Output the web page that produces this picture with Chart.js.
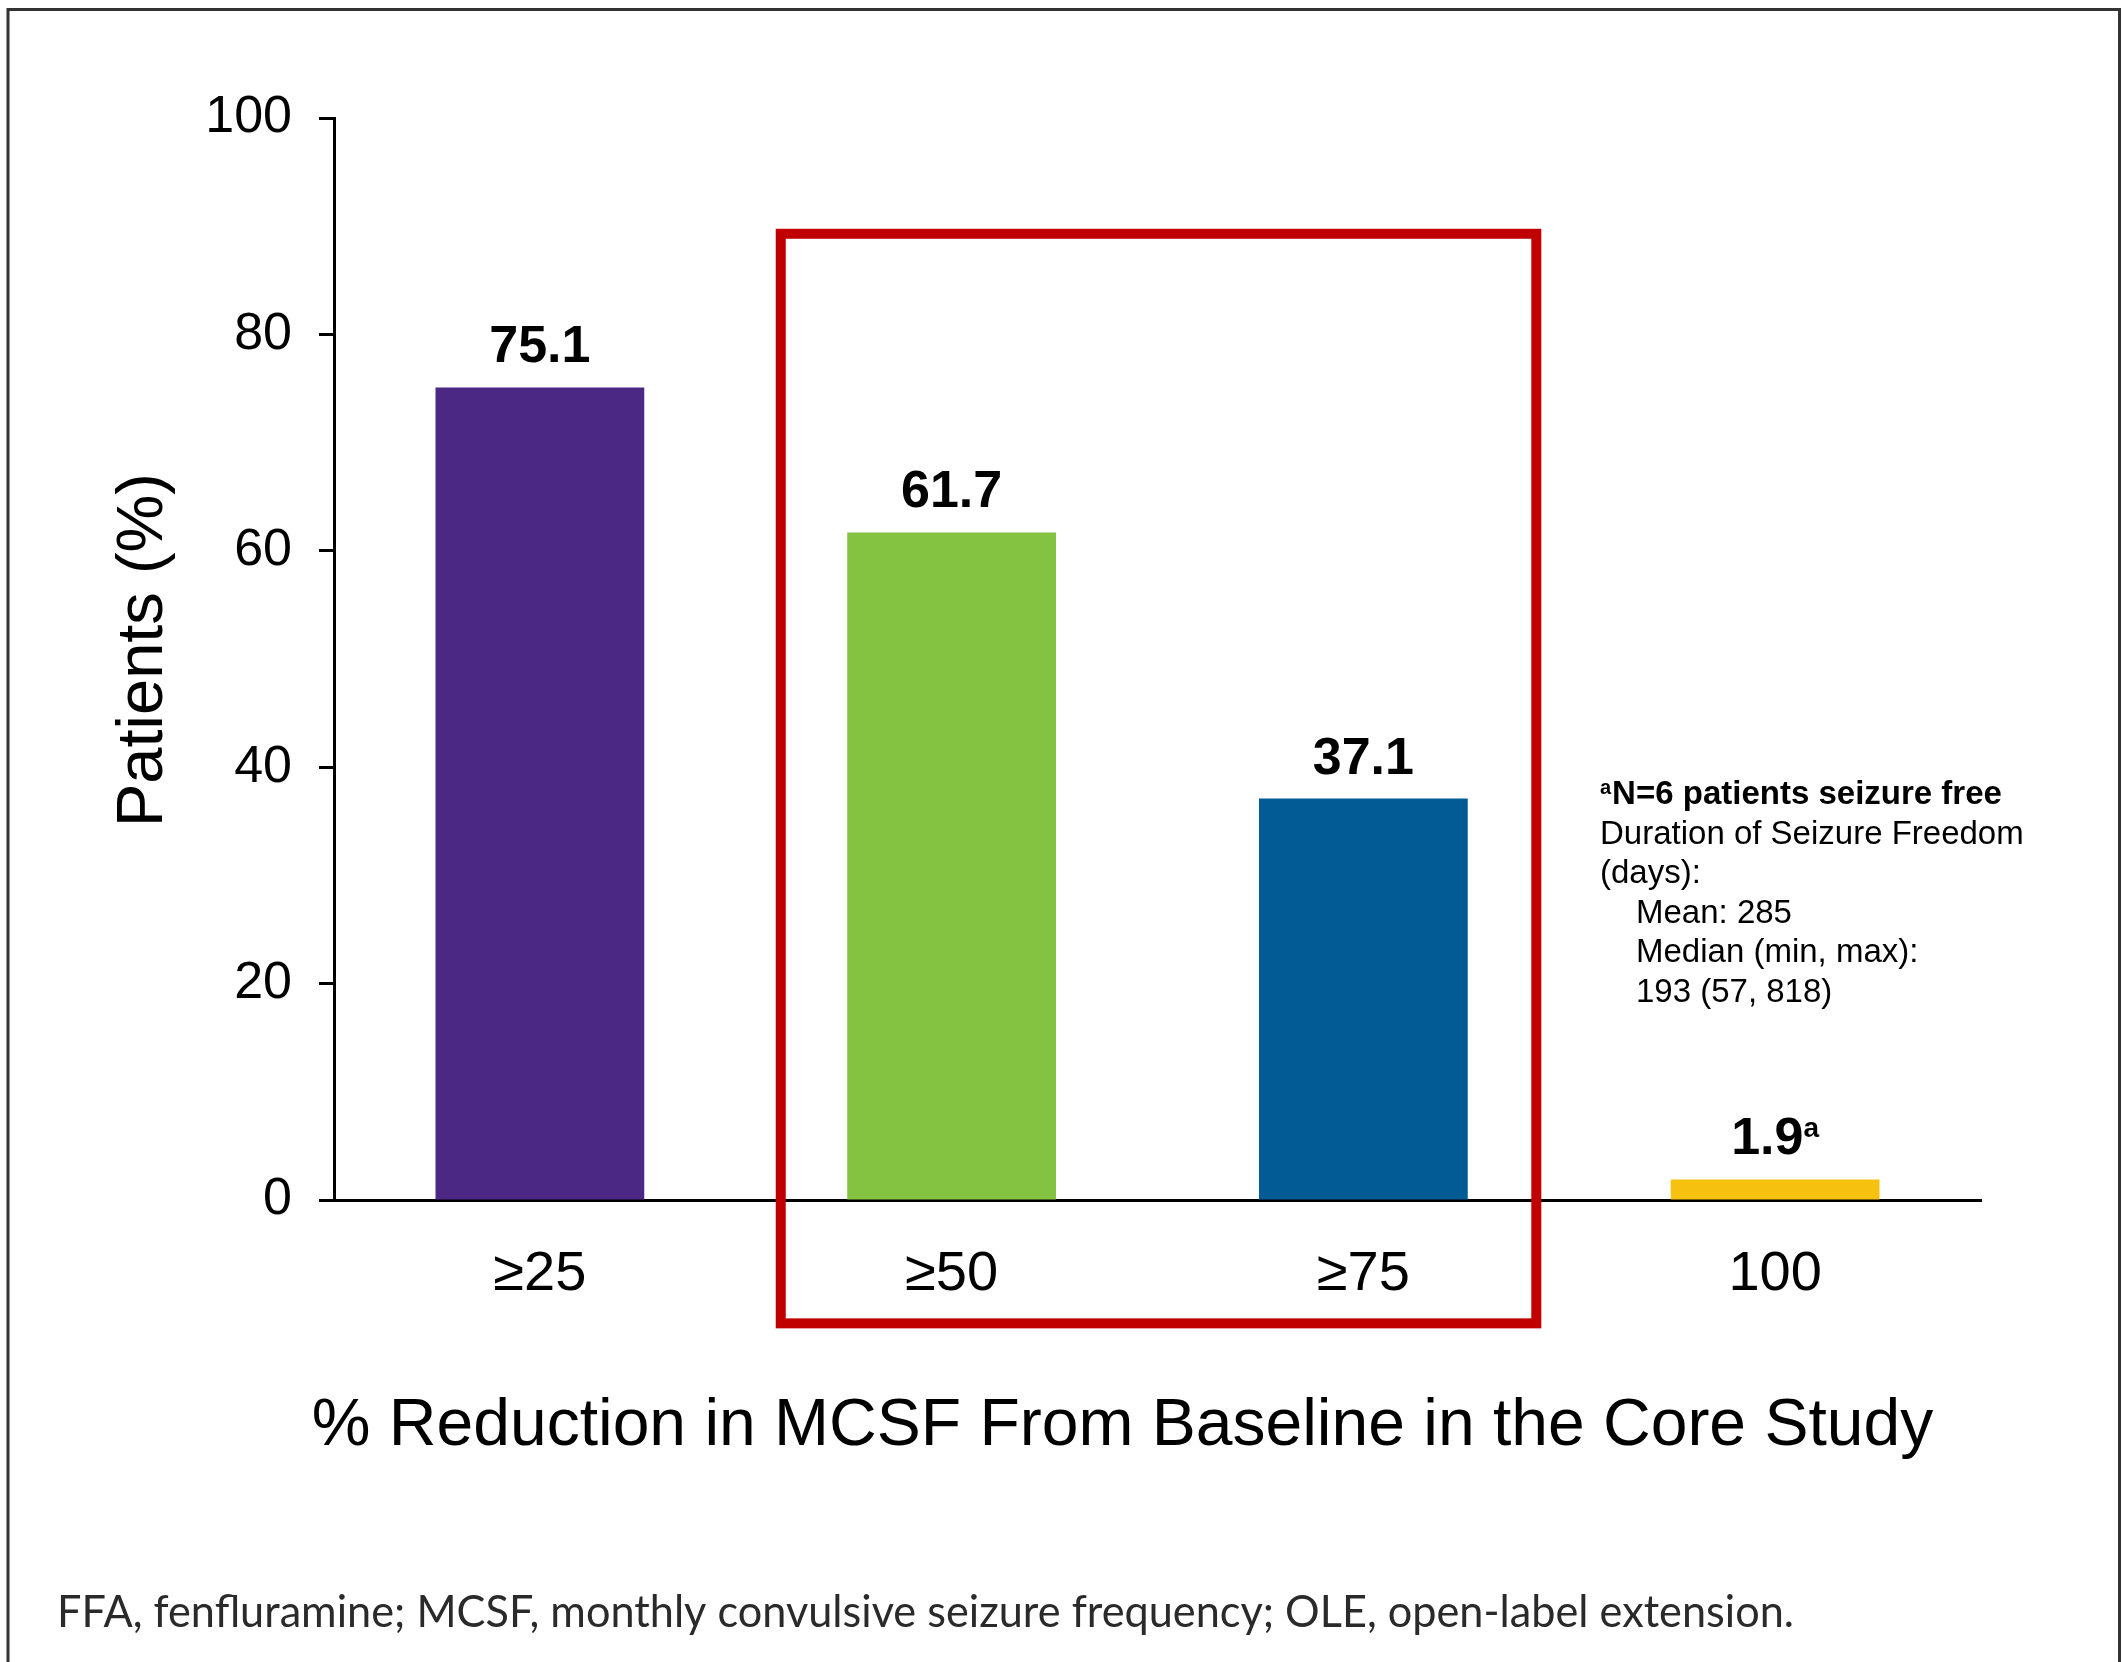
<!DOCTYPE html>
<html>
<head>
<meta charset="utf-8">
<script src="https://cdn.jsdelivr.net/npm/chart.js@4"></script>
<style>
  html, body { margin: 0; padding: 0; background: #ffffff; }
  #wrap { position: relative; width: 2123px; height: 1662px; }
  canvas { display: block; }
</style>
</head>
<body>
<div id="wrap"><canvas id="chart" width="2123" height="1662"></canvas></div>
<script>
// Response categories (% reduction in MCSF from core-study baseline)
const categories = ['\u226525', '\u226550', '\u226575', '100'];
// Share of patients reaching each threshold (%)
const patientPct = [75.1, 61.7, 37.1, 1.9];
// Footnote markers attached to the value labels
const valueMarks = ['', '', '', 'a'];
const barColors = ['#4B2884', '#84C341', '#025B95', '#F6C10F'];
// Y-axis tick values
const yTicks = [0, 20, 40, 60, 80, 100];

// Highlight frame around the >=50 and >=75 groups (category index / axis value units)
const frameX = [0.585, 2.42];
const frameY = [-11.4, 89.3];

const axisTitleX = '% Reduction in MCSF From Baseline in the Core Study';
const axisTitleY = 'Patients (%)';
const noteHeadMark = 'a';
const noteHead = 'N=6 patients seizure free';
const noteLines = [
  { text: 'Duration of Seizure Freedom', indent: 0 },
  { text: '(days):', indent: 0 },
  { text: 'Mean: 285', indent: 1 },
  { text: 'Median (min, max):', indent: 1 },
  { text: '193 (57, 818)', indent: 1 }
];
const footnote = 'FFA, fenfluramine; MCSF, monthly convulsive seizure frequency; OLE, open-label extension.';

const FONT = "'Liberation Sans', Arial, Helvetica, sans-serif";

const decorations = {
  id: 'decorations',
  afterDraw(chart) {
    const ctx = chart.ctx;
    const xs = chart.scales.x;
    const ys = chart.scales.y;
    const area = chart.chartArea;
    ctx.save();

    // outer panel frame (open at the bottom)
    ctx.strokeStyle = '#333333';
    ctx.lineWidth = 3;
    ctx.beginPath();
    ctx.moveTo(8, 1662);
    ctx.lineTo(8, 9.5);
    ctx.lineTo(2119.5, 9.5);
    ctx.lineTo(2119.5, 1662);
    ctx.stroke();

    // value labels above the bars
    const meta = chart.getDatasetMeta(0);
    ctx.fillStyle = '#000000';
    ctx.textBaseline = 'alphabetic';
    meta.data.forEach((bar, i) => {
      const main = patientPct[i].toFixed(1);
      const mark = valueMarks[i];
      const baseY = bar.y - 25;
      ctx.font = 'bold 52px ' + FONT;
      const w1 = ctx.measureText(main).width;
      ctx.font = 'bold 28px ' + FONT;
      const w2 = mark ? ctx.measureText(mark).width : 0;
      const startX = bar.x - (w1 + w2) / 2;
      ctx.textAlign = 'left';
      ctx.font = 'bold 52px ' + FONT;
      ctx.fillText(main, startX, baseY);
      if (mark) {
        ctx.font = 'bold 28px ' + FONT;
        ctx.fillText(mark, startX + w1, baseY - 17);
      }
    });

    // highlight frame
    const fx0 = xs.getPixelForValue(frameX[0]);
    const fx1 = xs.getPixelForValue(frameX[1]);
    const fy0 = ys.getPixelForValue(frameY[1]);
    const fy1 = ys.getPixelForValue(frameY[0]);
    ctx.strokeStyle = '#C00000';
    ctx.lineWidth = 10;
    ctx.lineJoin = 'miter';
    ctx.strokeRect(fx0, fy0, fx1 - fx0, fy1 - fy0);

    // x-axis title
    ctx.fillStyle = '#000000';
    ctx.font = '66px ' + FONT;
    ctx.textAlign = 'center';
    ctx.fillText(axisTitleX, (area.left + area.right) / 2 - 35, 1445);

    // y-axis title
    ctx.save();
    ctx.translate(162, (area.top + area.bottom) / 2 - 9);
    ctx.rotate(-Math.PI / 2);
    ctx.font = '65px ' + FONT;
    ctx.textAlign = 'center';
    ctx.fillText(axisTitleY, 0, 0);
    ctx.restore();

    // seizure-freedom note
    const nx = 1600;
    let ny = 804;
    ctx.textAlign = 'left';
    ctx.font = 'bold 20px ' + FONT;
    ctx.fillText(noteHeadMark, nx, ny - 10);
    const mw = ctx.measureText(noteHeadMark).width;
    ctx.font = 'bold 33px ' + FONT;
    ctx.fillText(noteHead, nx + mw + 1, ny);
    ctx.font = '33px ' + FONT;
    noteLines.forEach(l => {
      ny += 39.6;
      ctx.fillText(l.text, nx + l.indent * 36, ny);
    });

    // abbreviations footnote
    ctx.fillStyle = '#2a2a2a';
    ctx.font = '44px Lato, "Noto Sans", sans-serif';
    ctx.fillText(footnote, 57, 1627, 1737);

    ctx.restore();
  }
};

new Chart(document.getElementById('chart'), {
  type: 'bar',
  data: {
    labels: categories,
    datasets: [{
      data: patientPct,
      backgroundColor: barColors,
      borderWidth: 0,
      categoryPercentage: 1,
      barPercentage: 0.507
    }]
  },
  options: {
    responsive: false,
    animation: false,
    devicePixelRatio: 1,
    layout: { padding: { left: 0, right: 142, top: 118, bottom: 0 } },
    plugins: { legend: { display: false }, tooltip: { enabled: false } },
    scales: {
      x: {
        grid: { display: false, drawTicks: false },
        border: { display: true, color: '#000000', width: 3 },
        ticks: {
          color: '#000000',
          font: { family: FONT, size: 56 },
          padding: 41,
          maxRotation: 0
        },
        afterFit(scale) { scale.height = 462; }
      },
      y: {
        min: 0,
        max: 100,
        afterBuildTicks(scale) { scale.ticks = yTicks.map(v => ({ value: v })); },
        grid: {
          drawOnChartArea: false,
          drawTicks: true,
          tickLength: 15,
          tickWidth: 3,
          tickColor: '#000000'
        },
        border: { display: true, color: '#000000', width: 3 },
        ticks: {
          color: '#000000',
          font: { family: FONT, size: 52 },
          padding: 27
        },
        afterFit(scale) { scale.width = 334; }
      }
    }
  },
  plugins: [decorations]
});
</script>
</body>
</html>
